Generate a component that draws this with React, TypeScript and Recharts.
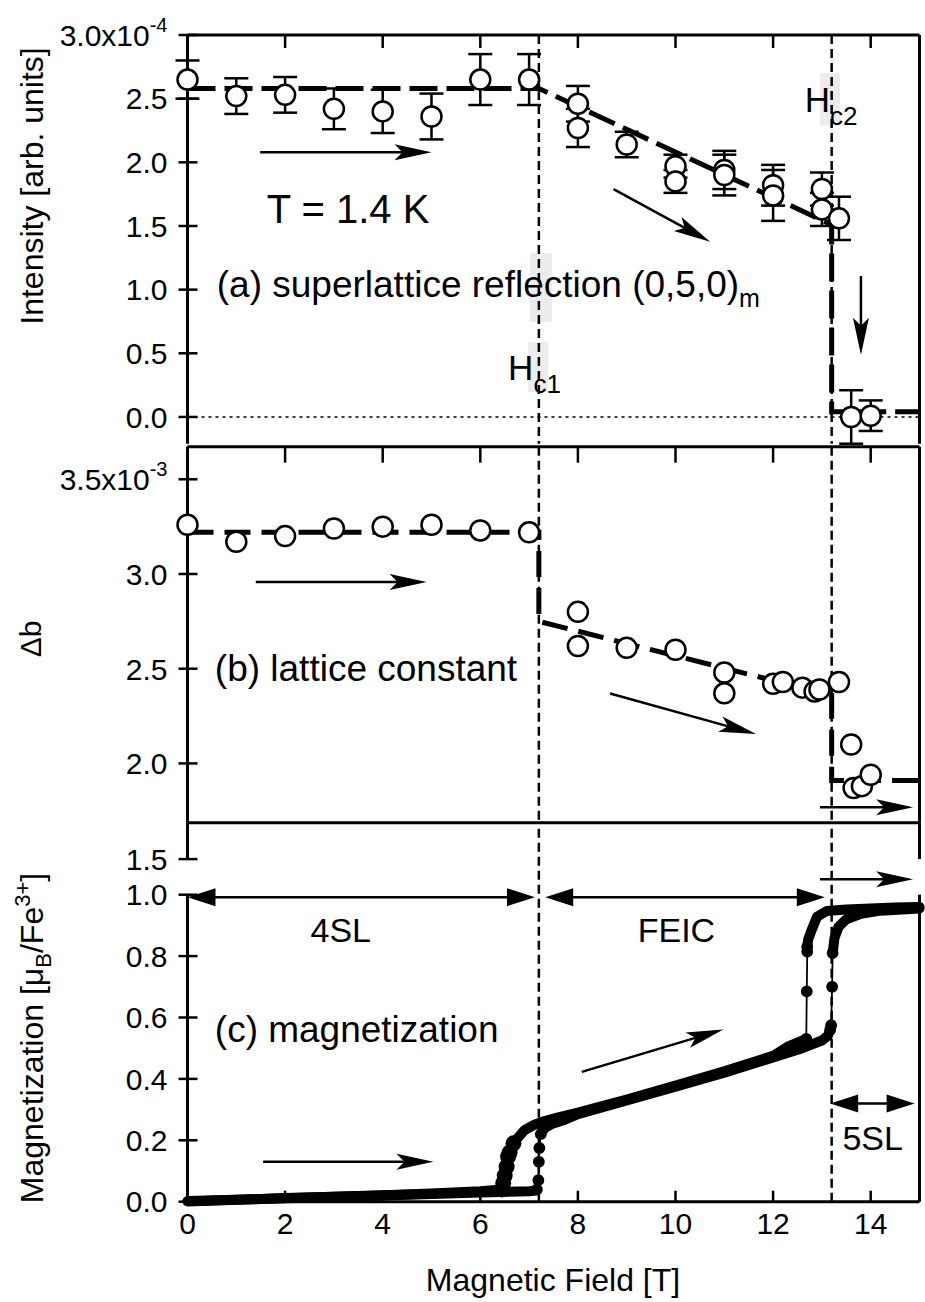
import React from 'react';
import {
  ComposedChart,
  Line,
  Scatter,
  ErrorBar,
  XAxis,
  YAxis,
  ReferenceLine,
  ReferenceDot,
  ReferenceArea,
} from 'recharts';

const FONT = '"Liberation Sans", Arial, Helvetica, sans-serif';

// shared field axis
const fieldTicks = [0, 2, 4, 6, 8, 10, 12, 14];
const fieldTickLabels = ['0', '2', '4', '6', '8', '10', '12', '14'];
const HC1 = 7.2;
const HC2 = 13.2;

// (a) superlattice reflection intensity, x10^-4
const intensityField = [0, 1, 2, 3, 4, 5, 6, 7, 8, 8, 9, 10, 10, 11, 11, 12, 12, 13, 13, 13.35, 13.6, 14.0];
const intensityValue = [2.65, 2.52, 2.53, 2.42, 2.4, 2.36, 2.65, 2.65, 2.46, 2.27, 2.14, 1.97, 1.85, 1.94, 1.9, 1.82, 1.74, 1.79, 1.63, 1.56, 0.0, 0.01];
const intensityError = [0.15, 0.14, 0.14, 0.16, 0.17, 0.18, 0.2, 0.2, 0.14, 0.15, 0.1, 0.09, 0.09, 0.15, 0.16, 0.16, 0.2, 0.13, 0.13, 0.17, 0.21, 0.12];
const intensityFitField = [0, 7.2, 13.2, 13.2, 15];
const intensityFitValue = [2.58, 2.58, 1.51, 0.04, 0.04];
const intensityTicks = [0, 0.5, 1, 1.5, 2, 2.5, 3];
const intensityTickLabels = ['0.0', '0.5', '1.0', '1.5', '2.0', '2.5', '3.0x10'];

// (b) lattice constant, x10^-3
const latticeField = [0, 1, 2, 3, 4, 5, 6, 7, 8, 8, 9, 10, 11, 11, 12, 12.2, 12.6, 12.85, 12.95, 13.35, 13.6, 13.65, 13.82, 14.0];
const latticeValue = [3.26, 3.17, 3.2, 3.24, 3.25, 3.26, 3.23, 3.22, 2.8, 2.62, 2.61, 2.6, 2.48, 2.37, 2.42, 2.43, 2.4, 2.38, 2.39, 2.43, 2.1, 1.87, 1.88, 1.94];
const latticeFitField = [0, 7.2, 7.2, 13.2, 13.2, 15];
const latticeFitValue = [3.22, 3.22, 2.75, 2.36, 1.91, 1.91];
const latticeTicks = [2, 2.5, 3, 3.5];
const latticeTickLabels = ['2.0', '2.5', '3.0', '3.5x10'];

// (c) magnetization, muB/Fe3+  [field, moment]
const upLow = [[0, 0.002], [1, 0.006], [2, 0.012], [3, 0.016], [4, 0.02], [5, 0.025], [6, 0.03], [7, 0.034], [7.15, 0.036]];
const upStep1 = [[7.16, 0.04], [7.19, 0.07], [7.2, 0.13], [7.21, 0.175], [7.24, 0.22]];
const upMid = [[7.24, 0.22], [7.32, 0.24], [7.45, 0.252], [7.7, 0.265], [8, 0.285], [9, 0.33], [10, 0.375], [11, 0.42], [12, 0.47], [12.6, 0.5], [13.0, 0.525], [13.12, 0.54], [13.17, 0.56]];
const upStep2 = [[13.17, 0.56], [13.19, 0.575], [13.21, 0.7], [13.22, 0.81]];
const upHigh = [[13.22, 0.81], [13.26, 0.86], [13.34, 0.895], [13.5, 0.92], [13.8, 0.938], [14.2, 0.948], [15, 0.955]];
const downHigh = [[15, 0.96], [14.5, 0.958], [14, 0.955], [13.5, 0.952], [13.1, 0.947], [12.9, 0.928], [12.79, 0.885], [12.72, 0.855], [12.7, 0.83]];
const downStep1 = [[12.7, 0.83], [12.7, 0.815], [12.69, 0.685], [12.68, 0.53]];
const downMid = [[12.68, 0.53], [12.3, 0.505], [12, 0.475], [11, 0.425], [10, 0.378], [9, 0.333], [8, 0.29], [7.6, 0.275], [7.3, 0.262], [7.1, 0.25], [6.9, 0.232], [6.78, 0.21], [6.68, 0.19]];
const downStep2 = [[6.68, 0.19], [6.6, 0.16], [6.57, 0.147], [6.54, 0.114], [6.5, 0.085], [6.47, 0.06], [6.44, 0.04]];
const downLow = [[6.44, 0.04], [6, 0.034], [5, 0.027], [4, 0.021], [3, 0.016], [2, 0.011], [1, 0.006], [0, 0.001]];
const magTicks = [0, 0.2, 0.4, 0.6, 0.8, 1.0, 1.116];
const magTickLabels = ['0.0', '0.2', '0.4', '0.6', '0.8', '1.0', '1.5'];

const toPts = (pairs: number[][]) => pairs.map(([x, y]) => ({ x, y }));

const AXIS = { stroke: '#000', strokeWidth: 3 };
const TICK_FONT = 30;

const labelFrom = (ticks: number[], labels: string[], sup?: string) => (v: number) => {
  const i = ticks.indexOf(v);
  const s = i >= 0 ? labels[i] : String(v);
  if (sup && i === ticks.length - 1) {
    return (
      <>
        {s}
        <tspan dy={-14} fontSize={20}>{sup}</tspan>
      </>
    );
  }
  return s;
};

const leftTick = (fmt: (v: number) => React.ReactNode) => (p: any) => (
  <g>
    <line x1={p.x - 9} x2={p.x + 10} y1={p.y} y2={p.y} stroke="#000" strokeWidth={2.5} />
    <text x={p.x - 20} y={p.y} dy="0.36em" textAnchor="end" fontSize={TICK_FONT} fontFamily={FONT} fill="#000">
      {fmt(p.payload.value)}
    </text>
  </g>
);

const rightTick = (p: any) => (
  <line x1={p.x - 9} x2={p.x + 8} y1={p.y} y2={p.y} stroke="#000" strokeWidth={2.5} />
);

const topTick = (len: number) => (p: any) => (
  <line x1={p.x} x2={p.x} y1={p.y} y2={p.y + len} stroke="#000" strokeWidth={2.5} />
);

const bottomTick = (p: any) => {
  const i = fieldTicks.indexOf(p.payload.value);
  return (
    <g>
      {i > 0 && <line x1={p.x} x2={p.x} y1={p.y} y2={p.y - 11} stroke="#000" strokeWidth={2.5} />}
      <text x={p.x} y={p.y + 32} textAnchor="middle" fontSize={TICK_FONT} fontFamily={FONT} fill="#000">
        {fieldTickLabels[i]}
      </text>
    </g>
  );
};

// arrow drawn along a reference segment
const arrow = (len: number, half: number, notch: number, both = false, width = 2.5) => (p: any) => {
  const { x1, y1, x2, y2 } = p;
  const L = Math.hypot(x2 - x1, y2 - y1) || 1;
  const ux = (x2 - x1) / L;
  const uy = (y2 - y1) / L;
  const nx = -uy;
  const ny = ux;
  const head = (tx: number, ty: number, dx: number, dy: number) => {
    const bx = tx - dx * len;
    const by = ty - dy * len;
    const mx = tx - dx * (len - notch);
    const my = ty - dy * (len - notch);
    return [
      [tx, ty],
      [bx + nx * half, by + ny * half],
      [mx, my],
      [bx - nx * half, by - ny * half],
    ]
      .map((q) => q.join(','))
      .join(' ');
  };
  const sx = both ? x1 + ux * len * 0.6 : x1;
  const sy = both ? y1 + uy * len * 0.6 : y1;
  return (
    <g>
      <line x1={sx} y1={sy} x2={x2 - ux * len * 0.6} y2={y2 - uy * len * 0.6} stroke="#000" strokeWidth={width} />
      <polygon points={head(x2, y2, ux, uy)} fill="#000" />
      {both && <polygon points={head(x1, y1, -ux, -uy)} fill="#000" />}
    </g>
  );
};
const thinArrow = arrow(37, 8, 8);
const doubleArrow = arrow(28, 9, 0, true);

const textShape = (content: React.ReactNode, size: number, anchor = 'start') => (p: any) => (
  <text x={p.cx} y={p.cy} fontSize={size} fontFamily={FONT} textAnchor={anchor} fill="#000">
    {content}
  </text>
);

const openCircle = (p: any) => (
  <circle cx={p.cx} cy={p.cy} r={10} fill="#fff" stroke="#000" strokeWidth={2.5} />
);

const hcLines = [HC1, HC2].map((x) => (
  <ReferenceLine key={x} x={x} stroke="#000" strokeWidth={2.5} strokeDasharray="9 5" />
));

function PanelA() {
  const pts = intensityField.map((x, i) => ({ x, y: intensityValue[i], err: intensityError[i] }));
  const fit = intensityFitField.map((x, i) => ({ x, y: intensityFitValue[i] }));
  return (
    <ComposedChart width={925} height={452} margin={{ top: 0, right: 0, bottom: 8.3, left: 0 }}>
      <XAxis type="number" dataKey="x" orientation="top" height={35} domain={[0, 15]} ticks={fieldTicks} interval={0}
        tickSize={0} tickMargin={0} tick={topTick(13)} axisLine={AXIS} tickLine={false} />
      <YAxis type="number" dataKey="y" width={187.5} domain={[-0.21, 3]} ticks={intensityTicks} interval={0}
        tickSize={0} tickMargin={0} tick={leftTick(labelFrom(intensityTicks, intensityTickLabels, '-4'))} axisLine={AXIS} tickLine={false} />
      <YAxis yAxisId="r" orientation="right" type="number" width={5.5} domain={[-0.21, 3]} ticks={intensityTicks} interval={0}
        tickSize={0} tickMargin={0} tick={rightTick} axisLine={AXIS} tickLine={false} />
      <ReferenceArea x1={7.02} x2={7.47} y1={0.746} y2={1.288} fill="#ececec" fillOpacity={1} stroke="none" />
      <ReferenceArea x1={6.98} x2={7.39} y1={0.196} y2={0.589} fill="#ececec" fillOpacity={1} stroke="none" />
      <ReferenceArea x1={12.96} x2={13.37} y1={2.29} y2={2.7} fill="#ececec" fillOpacity={1} stroke="none" />
      <ReferenceLine y={0} stroke="#000" strokeWidth={1.5} strokeDasharray="3 4" />
      {hcLines}
      <Line data={fit} dataKey="y" stroke="#000" strokeWidth={5} strokeDasharray="28 9" dot={false} isAnimationActive={false} />
      <Scatter data={pts} dataKey="y" shape={openCircle} isAnimationActive={false}>
        <ErrorBar dataKey="err" direction="y" width={12} stroke="#000" strokeWidth={2.5} />
      </Scatter>
      <ReferenceLine segment={[{ x: 1.49, y: 2.08 }, { x: 5.0, y: 2.08 }]} shape={thinArrow} ifOverflow="visible" />
      <ReferenceLine segment={[{ x: 8.73, y: 1.79 }, { x: 10.71, y: 1.376 }]} shape={thinArrow} ifOverflow="visible" />
      <ReferenceLine segment={[{ x: 13.8, y: 1.107 }, { x: 13.8, y: 0.489 }]} shape={thinArrow} ifOverflow="visible" />
      <ReferenceDot x={3.29} y={1.52} r={0} ifOverflow="visible" shape={textShape('T = 1.4 K', 40, 'middle')} />
      <ReferenceDot x={0.6} y={0.94} r={0} ifOverflow="visible"
        shape={textShape(<>(a) superlattice reflection (0,5,0)<tspan dy={10} fontSize={25}>m</tspan></>, 37)} />
      <ReferenceDot x={6.57} y={0.29} r={0} ifOverflow="visible"
        shape={textShape(<>H<tspan dy={13} fontSize={26}>c1</tspan></>, 35)} />
      <ReferenceDot x={12.65} y={2.396} r={0} ifOverflow="visible"
        shape={textShape(<>H<tspan dy={13} fontSize={26}>c2</tspan></>, 35)} />
    </ComposedChart>
  );
}

function PanelB() {
  const pts = latticeField.map((x, i) => ({ x, y: latticeValue[i] }));
  const fit = latticeFitField.map((x, i) => ({ x, y: latticeFitValue[i] }));
  return (
    <ComposedChart width={925} height={388} margin={{ top: 0, right: 0, bottom: 5.3, left: 0 }}>
      <XAxis type="number" dataKey="x" orientation="top" height={6.7} domain={[0, 15]} ticks={fieldTicks} interval={0}
        tickSize={0} tickMargin={0} tick={topTick(16)} axisLine={AXIS} tickLine={false} />
      <YAxis type="number" dataKey="y" width={187.5} domain={[1.687, 3.672]} ticks={latticeTicks} interval={0}
        tickSize={0} tickMargin={0} tick={leftTick(labelFrom(latticeTicks, latticeTickLabels, '-3'))} axisLine={AXIS} tickLine={false} />
      <YAxis yAxisId="r" orientation="right" type="number" width={5.5} domain={[1.687, 3.672]} ticks={latticeTicks} interval={0}
        tickSize={0} tickMargin={0} tick={rightTick} axisLine={AXIS} tickLine={false} />
      {hcLines}
      <Line data={fit} dataKey="y" stroke="#000" strokeWidth={5} strokeDasharray="26 11" dot={false} isAnimationActive={false} />
      <Scatter data={pts} dataKey="y" shape={openCircle} isAnimationActive={false} />
      <ReferenceLine segment={[{ x: 1.4, y: 2.958 }, { x: 4.9, y: 2.958 }]} shape={thinArrow} ifOverflow="visible" />
      <ReferenceLine segment={[{ x: 8.66, y: 2.369 }, { x: 11.65, y: 2.155 }]} shape={thinArrow} ifOverflow="visible" />
      <ReferenceLine segment={[{ x: 12.96, y: 1.768 }, { x: 14.87, y: 1.768 }]} shape={thinArrow} ifOverflow="visible" />
      <ReferenceDot x={0.56} y={2.433} r={0} ifOverflow="visible" shape={textShape('(b) lattice constant', 37)} />
    </ComposedChart>
  );
}

function PanelC() {
  const band = (pairs: number[][], key: string) => (
    <Line key={key} data={toPts(pairs)} dataKey="y" stroke="#000" strokeWidth={10} strokeLinecap="round" strokeLinejoin="round"
      dot={false} isAnimationActive={false} />
  );
  const step = (pairs: number[][], key: string, r = 5, w = 1.8) => (
    <Line key={key} data={toPts(pairs)} dataKey="y" stroke="#000" strokeWidth={w}
      dot={{ r, fill: '#000', stroke: '#000' }} isAnimationActive={false} />
  );
  return (
    <ComposedChart width={925} height={486.7} margin={{ top: 0, right: 0, bottom: 0, left: 0 }}>
      <XAxis type="number" dataKey="x" height={100} domain={[0, 15]} ticks={fieldTicks} interval={0}
        tickSize={0} tickMargin={0} tick={bottomTick} axisLine={AXIS} tickLine={false} />
      <XAxis xAxisId="top" type="number" orientation="top" height={7.7} domain={[0, 15]} ticks={fieldTicks} interval={0}
        tickSize={0} tickMargin={0} tick={topTick(18)} axisLine={AXIS} tickLine={false} />
      <YAxis type="number" dataKey="y" width={187.5} domain={[0, 1.2345]} ticks={magTicks} interval={0}
        tickSize={0} tickMargin={0} tick={leftTick(labelFrom(magTicks, magTickLabels))} axisLine={false} tickLine={false} />
      <YAxis yAxisId="r" orientation="right" type="number" width={5.5} domain={[0, 1.2345]} ticks={magTicks} interval={0}
        tickSize={0} tickMargin={0} tick={rightTick} axisLine={false} tickLine={false} />
      <ReferenceLine segment={[{ x: 0, y: 0 }, { x: 0, y: 1.0 }]} stroke="#000" strokeWidth={3} />
      <ReferenceLine segment={[{ x: 0, y: 1.116 }, { x: 0, y: 1.2345 }]} stroke="#000" strokeWidth={3} />
      <ReferenceLine segment={[{ x: 15, y: 0 }, { x: 15, y: 1.0 }]} stroke="#000" strokeWidth={3} />
      <ReferenceLine segment={[{ x: 15, y: 1.116 }, { x: 15, y: 1.2345 }]} stroke="#000" strokeWidth={3} />
      {hcLines}
      {band(upLow, 'upLow')}
      {step(upStep1, 'upStep1')}
      {band(upMid, 'upMid')}
      {step(upStep2, 'upStep2')}
      {band(upHigh, 'upHigh')}
      {band(downHigh, 'downHigh')}
      {step(downStep1, 'downStep1')}
      {band(downMid, 'downMid')}
      {step(downStep2, 'downStep2', 6, 4)}
      {band(downLow, 'downLow')}
      <ReferenceLine segment={[{ x: 0, y: 0.992 }, { x: 7.12, y: 0.992 }]} shape={doubleArrow} ifOverflow="visible" />
      <ReferenceLine segment={[{ x: 7.33, y: 0.992 }, { x: 13.06, y: 0.992 }]} shape={doubleArrow} ifOverflow="visible" />
      <ReferenceLine segment={[{ x: 13.17, y: 0.32 }, { x: 14.9, y: 0.32 }]} shape={doubleArrow} ifOverflow="visible" />
      <ReferenceLine segment={[{ x: 12.96, y: 1.05 }, { x: 14.87, y: 1.05 }]} shape={thinArrow} ifOverflow="visible" />
      <ReferenceLine segment={[{ x: 1.55, y: 0.13 }, { x: 5.04, y: 0.13 }]} shape={thinArrow} ifOverflow="visible" />
      <ReferenceLine segment={[{ x: 8.08, y: 0.423 }, { x: 10.98, y: 0.561 }]} shape={thinArrow} ifOverflow="visible" />
      <ReferenceDot x={3.14} y={0.846} r={0} ifOverflow="visible" shape={textShape('4SL', 34, 'middle')} />
      <ReferenceDot x={10.02} y={0.846} r={0} ifOverflow="visible" shape={textShape('FEIC', 34, 'middle')} />
      <ReferenceDot x={14.04} y={0.168} r={0} ifOverflow="visible" shape={textShape('5SL', 34, 'middle')} />
      <ReferenceDot x={0.56} y={0.52} r={0} ifOverflow="visible" shape={textShape('(c) magnetization', 37)} />
    </ComposedChart>
  );
}

export default function App() {
  return (
    <div style={{ position: 'absolute', left: 0, top: 0, width: 925, height: 1302, background: '#fff', fontFamily: FONT }}>
      <div style={{ position: 'absolute', left: 0, top: 0 }}>
        <PanelA />
      </div>
      <div style={{ position: 'absolute', left: 0, top: 440 }}>
        <PanelB />
      </div>
      <div style={{ position: 'absolute', left: 0, top: 815 }}>
        <PanelC />
      </div>
      <svg width={925} height={1302} style={{ position: 'absolute', left: 0, top: 0, pointerEvents: 'none' }}>
        <g fontFamily={FONT} fontSize={32} fill="#000" textAnchor="middle">
          <text transform="translate(43,186) rotate(-90)">Intensity [arb. units]</text>
          <text transform="translate(41,639) rotate(-90)" fontSize={30}>Δb</text>
          <text transform="translate(43,1038) rotate(-90)">
            Magnetization [μ<tspan dy={8} fontSize={22}>B</tspan>
            <tspan dy={-8}>/Fe</tspan>
            <tspan dy={-13} fontSize={22}>3+</tspan>
            <tspan dy={13}>]</tspan>
          </text>
          <text x={553} y={1291}>Magnetic Field [T]</text>
        </g>
      </svg>
    </div>
  );
}
